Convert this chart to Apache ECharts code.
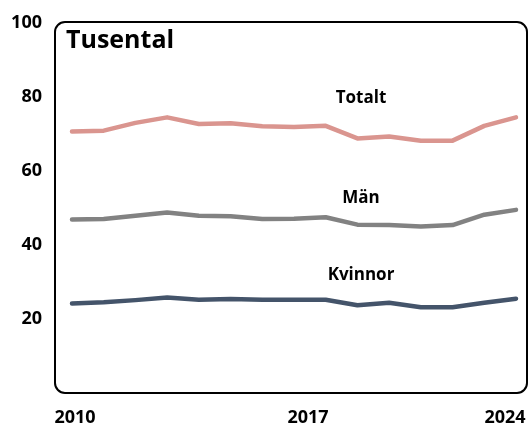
<!DOCTYPE html>
<html>
<head>
<meta charset="utf-8">
<script src="https://cdn.jsdelivr.net/npm/echarts@6/dist/echarts.min.js"></script>
<style>
    html, body { margin: 0; padding: 0; background: #fff; }
    #chart { width: 529px; height: 427px; }
</style>
</head>
<body>
<div id="chart"></div>
<script>
// 数据
var years = ['2010','2011','2012','2013','2014','2015','2016','2017','2018','2019','2020','2021','2022','2023','2024'];
var totalt = [70.7, 70.9, 73.0, 74.5, 72.7, 72.9, 72.1, 71.9, 72.2, 68.8, 69.3, 68.2, 68.2, 72.2, 74.5];
var man = [46.9, 47.0, 47.9, 48.8, 47.9, 47.8, 47.0, 47.1, 47.5, 45.5, 45.4, 45.0, 45.4, 48.2, 49.5];
var kvinnor = [24.2, 24.5, 25.1, 25.8, 25.2, 25.4, 25.2, 25.2, 25.2, 23.7, 24.4, 23.2, 23.2, 24.4, 25.5];
var yTicks = [20, 40, 60, 80, 100];
var xTickLabels = ['2010', '2017', '2024'];

var font = '"Open Sans", "Noto Sans", sans-serif';

var myChart = echarts.init(document.getElementById('chart'));

function lineSeries(name, data, color) {
    return {
        name: name,
        type: 'line',
        data: data,
        symbol: 'none',
        smooth: false,
        lineStyle: { color: color, width: 4.5, cap: 'round', join: 'round' },
        z: 3
    };
}

var option = {
    backgroundColor: '#fff',
    animation: false,
    grid: { left: 72, right: 13, top: 23, bottom: 34 },
    xAxis: {
        type: 'category',
        data: years,
        boundaryGap: false,
        axisLine: { show: false },
        axisTick: { show: false },
        axisLabel: {
            interval: 6,
            margin: 16,
            formatter: function (v) {
                if (xTickLabels.indexOf(v) < 0) return '';
                // 标签位置微调
                if (v === '2010') return '{a|' + v + '}';
                if (v === '2017') return '{b|' + v + '}';
                return '{c|' + v + '}';
            },
            rich: {
                a: { fontFamily: font, fontWeight: 'bold', fontSize: 18, color: '#000', padding: [0, 0, 0, 6] },
                b: { fontFamily: font, fontWeight: 'bold', fontSize: 18, color: '#000', padding: [0, 0, 0, 28] },
                c: { fontFamily: font, fontWeight: 'bold', fontSize: 18, color: '#000', padding: [0, 22, 0, 0] }
            }
        }
    },
    yAxis: {
        type: 'value',
        min: 0,
        max: 100,
        interval: 20,
        axisLine: { show: false },
        axisTick: { show: false },
        splitLine: { show: false },
        axisLabel: {
            margin: 30,
            color: '#000',
            fontFamily: font,
            fontWeight: 'bold',
            fontSize: 18,
            formatter: function (v) {
                return yTicks.indexOf(v) >= 0 ? String(v) : '';
            }
        }
    },
    graphic: [
        {
            type: 'rect',
            shape: { x: 55, y: 22, width: 472, height: 371, r: 10 },
            style: { fill: 'none', stroke: '#000', lineWidth: 2 },
            z: 1
        },
        {
            type: 'text',
            left: 66, top: 28,
            style: { text: 'Tusental', fontFamily: font, fontWeight: 'bold', fontSize: 25, fill: '#000' }
        },
        {
            type: 'text', x: 361, y: 98,
            style: { text: 'Totalt', fontFamily: font, fontWeight: 'bold', fontSize: 17, fill: '#000', textAlign: 'center', textVerticalAlign: 'middle' }
        },
        {
            type: 'text', x: 361, y: 198,
            style: { text: 'Män', fontFamily: font, fontWeight: 'bold', fontSize: 17, fill: '#000', textAlign: 'center', textVerticalAlign: 'middle' }
        },
        {
            type: 'text', x: 361, y: 275,
            style: { text: 'Kvinnor', fontFamily: font, fontWeight: 'bold', fontSize: 17, fill: '#000', textAlign: 'center', textVerticalAlign: 'middle' }
        }
    ],
    series: [
        lineSeries('Totalt', totalt, '#DA958F'),
        lineSeries('Män', man, '#828282'),
        lineSeries('Kvinnor', kvinnor, '#44546A')
    ]
};
myChart.setOption(option);
</script>
</body>
</html>
